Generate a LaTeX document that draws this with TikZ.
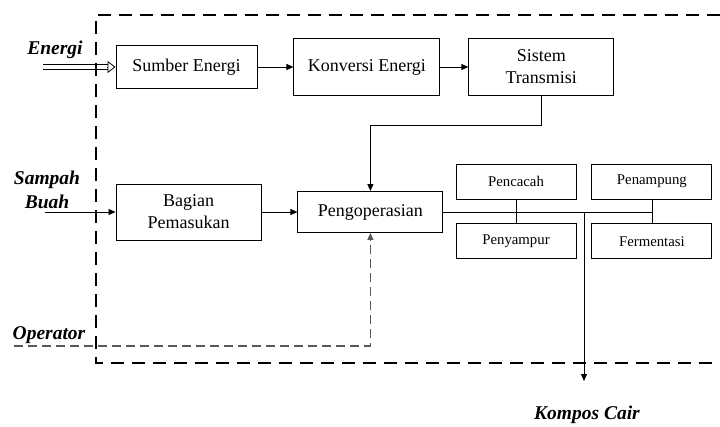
\documentclass[tikz,border=0pt]{standalone}
\usepackage{fontspec}
\setmainfont{Liberation Serif}
\usetikzlibrary{arrows.meta,positioning}
\begin{document}
\begin{tikzpicture}[x=1pt,y=-1pt]
	\tikzset{
		blok/.style={draw, line width=0.9pt, align=center, inner sep=0pt, font=\fontsize{18}{22}\selectfont},
		blokkecil/.style={draw, line width=0.9pt, minimum width=120pt, minimum height=35pt, inner sep=0pt, font=\fontsize{14.8}{16}\selectfont},
		panah/.style={-{Triangle[length=7pt,width=6pt]}, line width=0.8pt},
		masukan/.style={align=center, font=\fontsize{19.5}{24}\selectfont\bfseries\itshape},
		batas/.style={line width=1.8pt, dash pattern=on 13pt off 8pt},
		operasi/.style={line width=1.2pt, gray!70!black, dash pattern=on 9pt off 5pt}
	}
	\useasboundingbox (0,0) rectangle (720,426);
	\node[blok, minimum width=141pt, minimum height=43pt] (sumber) at (186.5,67) {Sumber Energi};
	\node[blok, minimum width=146pt, minimum height=57pt, right=36pt of sumber] (konversi) {Konversi Energi};
	\node[blok, minimum width=145pt, minimum height=57pt, right=28pt of konversi] (sistem) {Sistem\\Transmisi};
	\node[blok, minimum width=145pt, minimum height=56pt] (bagian) at (188.5,212) {Bagian\\Pemasukan};
	\node[blok, minimum width=145pt, minimum height=41pt, right=36pt of bagian] (peng) {Pengoperasian};
	\node[blokkecil] (pencacah) at (516,181.5) {Pencacah};
	\node[blokkecil, below=24pt of pencacah] (penyampur) {Penyampur};
	\node[blokkecil, right=15pt of pencacah] (penampung) {Penampung};
	\node[blokkecil, right=15pt of penyampur] (fermentasi) {Fermentasi};
	
	\node[masukan] (energi) at (55,50) {Energi};
	\node[masukan] (sampah) at (47,190) {Sampah\\Buah};
	\node[masukan] (operator) at (49,335) {Operator};
	\node[masukan] (kompos) at (587,415) {Kompos Cair};
	\coordinate (energiin) at (43,67);
	\coordinate (sampahin) at (45,212);
	\coordinate (operatorin) at (14,346);
	\coordinate (cabang) at (584,212);
	\coordinate (keluar) at (584,381);
	
	\draw[panah] (sumber) -- (konversi);
	\draw[panah] (konversi) -- (sistem);
	\draw[panah] (sistem.south) -- ++(0,29) -| (peng.north);
	\draw[panah] (sampahin) -- (bagian.west);
	\draw[panah] (bagian) -- (peng);
	\draw[line width=0.8pt] (peng.east) -- (peng.east -| penampung.south);
	\draw[line width=0.8pt] (pencacah.south) -- (penyampur.north);
	\draw[line width=0.8pt] (penampung.south) -- (fermentasi.north);
	\draw[panah] (cabang) -- (keluar);
	\draw[operasi, -{Triangle[length=7pt,width=6pt]}] (operatorin) -| (peng.south);
	\draw[double, double distance=4pt, line width=0.8pt, shorten >=8pt] (energiin) -- (sumber.west);
	\draw[line width=0.8pt, -{Triangle[open, length=8pt, width=12pt]}] ([xshift=-9pt]sumber.west) -- (sumber.west);
	
	\draw[batas] (720,15) -- (96,15) -- (96,363) -- (720,363);
\end{tikzpicture}
\end{document}
